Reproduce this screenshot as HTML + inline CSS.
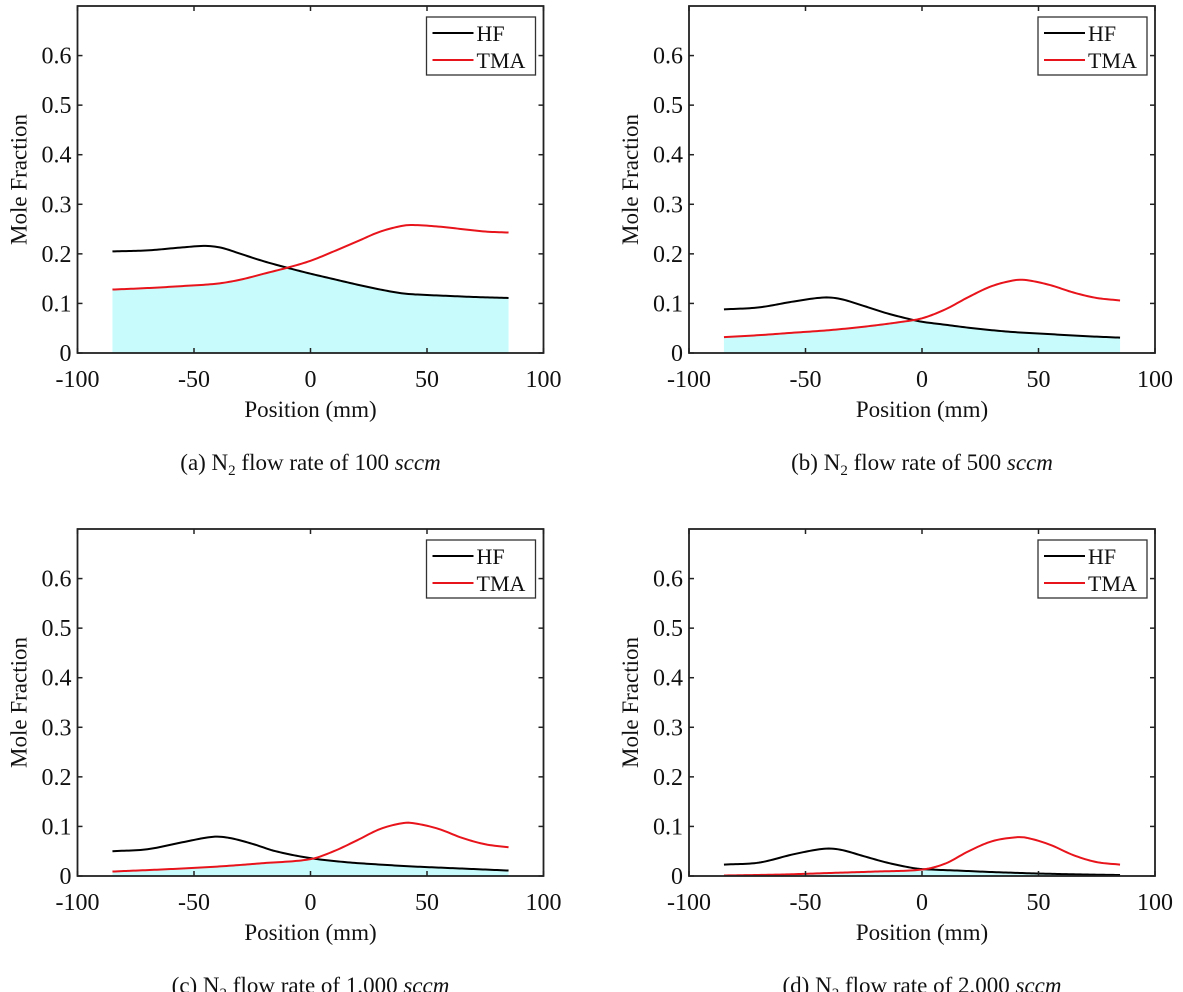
<!DOCTYPE html>
<html><head><meta charset="utf-8"><style>
body{margin:0;background:#fff;}
svg{display:block;font-family:"Liberation Serif",serif;}
</style></head><body>
<svg id="fig" width="1183" height="992" viewBox="0 0 1183 992"></svg>
<script>
const xTicks=[-100,-50,0,50,100];
const yTicks=[0,0.1,0.2,0.3,0.4,0.5,0.6];
const yTickLabels=["0","0.1","0.2","0.3","0.4","0.5","0.6"];
const captions=["(a) N","(b) N","(c) N","(d) N"];
const captionRates=["100","500","1,000","2,000"];
const hfXa=[-85,-70,-55,-45,-38,-30,-20,-10,0,10,20,30,40,50,60,70,85];
const hfYa=[0.205,0.207,0.213,0.216,0.212,0.2,0.185,0.172,0.16,0.149,0.138,0.128,0.12,0.117,0.115,0.113,0.111];
const tmaXa=[-85,-70,-55,-40,-30,-20,-10,0,10,20,30,40,45,55,65,75,85];
const tmaYa=[0.128,0.131,0.135,0.14,0.148,0.16,0.172,0.186,0.205,0.225,0.245,0.257,0.258,0.255,0.25,0.245,0.243];
const hfXb=[-85,-70,-55,-42,-35,-25,-15,-5,0,10,20,30,40,55,70,85];
const hfYb=[0.088,0.092,0.104,0.112,0.109,0.095,0.08,0.068,0.063,0.057,0.051,0.046,0.042,0.038,0.034,0.031];
const tmaXb=[-85,-70,-55,-40,-25,-10,0,10,20,30,40,45,55,65,75,85];
const tmaYb=[0.032,0.036,0.041,0.046,0.053,0.062,0.07,0.088,0.113,0.135,0.147,0.147,0.137,0.122,0.111,0.106];
const hfXc=[-85,-70,-55,-42,-35,-25,-15,0,15,30,45,60,85];
const hfYc=[0.05,0.054,0.068,0.079,0.077,0.065,0.05,0.036,0.028,0.023,0.019,0.016,0.011];
const tmaXc=[-85,-60,-40,-20,0,10,20,30,40,45,55,65,75,85];
const tmaYc=[0.009,0.014,0.019,0.026,0.034,0.05,0.072,0.095,0.107,0.106,0.095,0.077,0.064,0.058];
const hfXd=[-85,-70,-55,-42,-35,-25,-15,-5,0,15,30,50,70,85];
const hfYd=[0.023,0.027,0.044,0.055,0.053,0.04,0.027,0.017,0.014,0.011,0.008,0.005,0.003,0.002];
const tmaXd=[-85,-60,-40,-20,0,10,20,30,40,45,55,65,75,85];
const tmaYd=[0.001,0.003,0.006,0.009,0.013,0.025,0.05,0.07,0.078,0.077,0.063,0.042,0.028,0.023];

const panels=[
 {id:"a",x0:77.5,y0:6,hx:hfXa,hy:hfYa,tx:tmaXa,ty:tmaYa},
 {id:"b",x0:689,y0:6,hx:hfXb,hy:hfYb,tx:tmaXb,ty:tmaYb},
 {id:"c",x0:77.5,y0:529,hx:hfXc,hy:hfYc,tx:tmaXc,ty:tmaYc},
 {id:"d",x0:689,y0:529,hx:hfXd,hy:hfYd,tx:tmaXd,ty:tmaYd}
];
const W=466,H=347;
const NS="http://www.w3.org/2000/svg";
const svg=document.getElementById('fig');
function el(tag,attrs,parent){const e=document.createElementNS(NS,tag);for(const k in attrs)e.setAttribute(k,attrs[k]);(parent||svg).appendChild(e);return e;}
function interp(xs,ys,x){
 let i=0;while(i<xs.length-2&&x>xs[i+1])i++;
 const x1=xs[i],x2=xs[i+1],t=(x-x1)/(x2-x1);
 const y0=ys[Math.max(i-1,0)],y1=ys[i],y2=ys[i+1],y3=ys[Math.min(i+2,ys.length-1)];
 const x0=xs[Math.max(i-1,0)],x3=xs[Math.min(i+2,xs.length-1)];
 const m1=(y2-y0)/(x2-x0)*(x2-x1),m2=(y3-y1)/(x3-x1)*(x2-x1);
 const t2=t*t,t3=t2*t;
 return (2*t3-3*t2+1)*y1+(t3-2*t2+t)*m1+(-2*t3+3*t2)*y2+(t3-t2)*m2;
}
panels.forEach((p,k)=>{
 const g=el('g',{});
 
 
 const X=v=>p.x0+(v+100)/200*W;
 const Y=v=>p.y0+H-v/0.7*H;
 const samples=[];for(let x=-85;x<=85.001;x+=1)samples.push(x);
 let d="M"+X(-85)+","+Y(0);
 samples.forEach(x=>{d+=" L"+X(x).toFixed(2)+","+Y(Math.min(interp(p.hx,p.hy,x),interp(p.tx,p.ty,x))).toFixed(2);});
 d+=" L"+X(85)+","+Y(0)+"Z";
 const f=el('path',{d:d,fill:"#c8fcfc",stroke:"none"},g);
 
 
 [[p.hx,p.hy,"#000","hf-line"],[p.tx,p.ty,"#e8141c","tma-line"]].forEach(s=>{
  let dd="";samples.forEach((x,i)=>{dd+=(i?" L":"M")+X(x).toFixed(2)+","+Y(interp(s[0],s[1],x)).toFixed(2);});
  const l=el('path',{d:dd,fill:"none",stroke:s[2],"stroke-width":2},g);
  
  
 });
 const box=el('rect',{x:p.x0,y:p.y0,width:W,height:H,fill:"none",stroke:"#222","stroke-width":1.8},g);
 
 
 xTicks.forEach(v=>{
  el('line',{x1:X(v),x2:X(v),y1:p.y0+H,y2:p.y0+H-5,stroke:"#222","stroke-width":1.5},g);
  el('line',{x1:X(v),x2:X(v),y1:p.y0,y2:p.y0+5,stroke:"#222","stroke-width":1.5},g);
  const t=el('text',{x:X(v),y:p.y0+H+34,"text-anchor":"middle","font-size":24,fill:"#111"},g);
  t.textContent=v;
  
  
 });
 yTicks.forEach((v,i)=>{
  el('line',{x1:p.x0,x2:p.x0+5,y1:Y(v),y2:Y(v),stroke:"#222","stroke-width":1.5},g);
  el('line',{x1:p.x0+W,x2:p.x0+W-5,y1:Y(v),y2:Y(v),stroke:"#222","stroke-width":1.5},g);
  const t=el('text',{x:p.x0-6,y:Y(v)+8,"text-anchor":"end","font-size":24,fill:"#111"},g);
  t.textContent=yTickLabels[i];
  
  
 });
 const yl=el('text',{x:0,y:0,transform:"translate("+(p.x0-51)+","+(p.y0+H/2)+") rotate(-90)","text-anchor":"middle","font-size":23,fill:"#111"},g);
 yl.textContent="Mole Fraction";
 
 
 const xl=el('text',{x:X(0),y:p.y0+H+64,"text-anchor":"middle","font-size":23,fill:"#111"},g);
 xl.textContent="Position (mm)";
 
 
 const cap=el('text',{x:X(0),y:p.y0+H+117,"text-anchor":"middle","font-size":23,fill:"#111"},g);
 
 
 cap.appendChild(document.createTextNode(captions[k]));
 const sub=el('tspan',{"font-size":15,dy:5},cap);sub.textContent="2";
 const rest=el('tspan',{dy:-5},cap);rest.textContent=" flow rate of "+captionRates[k]+" ";
 const it=el('tspan',{"font-style":"italic"},cap);it.textContent="sccm";
 const lg=el('g',{},g);
 
 
 const lx=p.x0+W-117,ly=p.y0+11;
 el('rect',{x:lx,y:ly,width:109,height:58,fill:"#fff",stroke:"#333","stroke-width":1.3},lg);
 [["HF","#000",22],["TMA","#e8141c",49]].forEach(e=>{
  el('line',{x1:lx+6,x2:lx+47,y1:ly+e[2]-6,y2:ly+e[2]-6,stroke:e[1],"stroke-width":2},lg);
  const t=el('text',{x:lx+50,y:ly+e[2]+2,"font-size":22,fill:"#111"},lg);
  t.textContent=e[0];
  
  
 });
});
</script>
</body></html>
